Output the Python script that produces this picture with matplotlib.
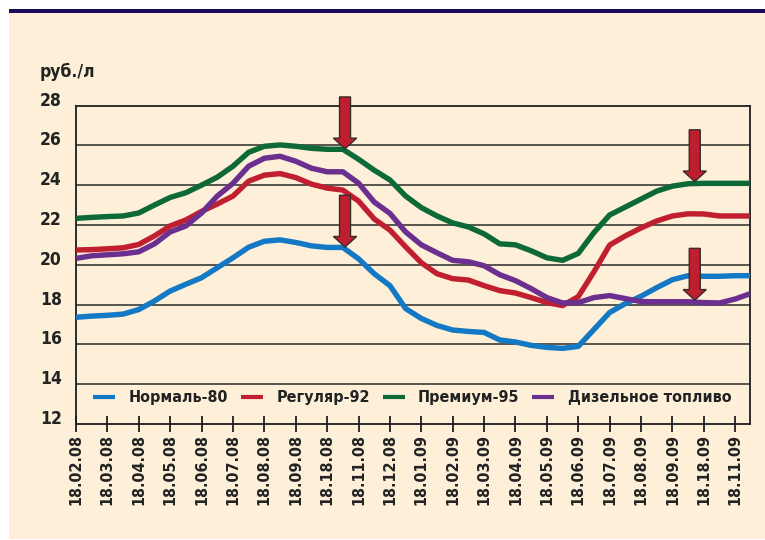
import numpy as np
import matplotlib
matplotlib.use('Agg')
import matplotlib.pyplot as plt
from matplotlib import font_manager
from matplotlib.patches import Rectangle, FancyArrow

names = {f.name for f in font_manager.fontManager.ttflist}
narrow = 'Liberation Sans Narrow' if 'Liberation Sans Narrow' in names else 'DejaVu Sans'
plt.rcParams['font.family'] = [narrow, 'DejaVu Sans']
plt.rcParams['font.stretch'] = 'condensed'
plt.rcParams['font.weight'] = 'bold'

# tick labels (monthly, as printed in the source)
dates = ['18.02.08', '18.03.08', '18.04.08', '18.05.08', '18.06.08', '18.07.08',
         '18.08.08', '18.09.08', '18.18.08', '18.11.08', '18.12.08', '18.01.09',
         '18.02.09', '18.03.09', '18.04.09', '18.05.09', '18.06.09', '18.07.09',
         '18.08.09', '18.09.09', '18.18.09', '18.11.09']
yticks = [12, 14, 16, 18, 20, 22, 24, 26, 28]

# prices, rub/l, read every half month
normal80 = [17.36, 17.42, 17.46, 17.52, 17.75, 18.18, 18.68, 19.02, 19.35, 19.85,
            20.35, 20.88, 21.18, 21.25, 21.12, 20.95, 20.87, 20.87, 20.30, 19.55,
            18.95, 17.80, 17.30, 16.95, 16.72, 16.65, 16.60, 16.22, 16.12, 15.95,
            15.85, 15.80, 15.90, 16.75, 17.60, 18.05, 18.42, 18.85, 19.25, 19.45,
            19.42, 19.42, 19.45, 19.45]
regular92 = [20.74, 20.76, 20.80, 20.85, 21.02, 21.45, 21.95, 22.25, 22.68, 23.05,
             23.45, 24.20, 24.50, 24.58, 24.38, 24.05, 23.85, 23.75, 23.20, 22.30,
             21.74, 20.90, 20.10, 19.55, 19.30, 19.23, 18.95, 18.70, 18.58, 18.35,
             18.10, 17.95, 18.40, 19.65, 20.99, 21.45, 21.85, 22.20, 22.45, 22.56,
             22.55, 22.45, 22.45, 22.45]
premium95 = [22.33, 22.38, 22.42, 22.45, 22.60, 23.00, 23.38, 23.62, 24.00, 24.40,
             24.95, 25.65, 25.95, 26.02, 25.95, 25.85, 25.80, 25.80, 25.30, 24.75,
             24.26, 23.45, 22.87, 22.45, 22.10, 21.90, 21.55, 21.05, 21.00, 20.70,
             20.35, 20.22, 20.57, 21.62, 22.50, 22.90, 23.30, 23.70, 23.95, 24.07,
             24.09, 24.09, 24.09, 24.09]
diesel = [20.32, 20.45, 20.50, 20.55, 20.65, 21.05, 21.65, 21.95, 22.60, 23.45,
          24.09, 24.95, 25.35, 25.45, 25.20, 24.85, 24.67, 24.67, 24.10, 23.15,
          22.58, 21.65, 21.00, 20.60, 20.22, 20.15, 19.95, 19.50, 19.20, 18.80,
          18.35, 18.08, 18.10, 18.35, 18.45, 18.30, 18.15, 18.14, 18.14, 18.14,
          18.10, 18.08, 18.28, 18.56]

series = {
    'Нормаль-80': (normal80, '#1479c4'),
    'Регуляр-92': (regular92, '#c01f2f'),
    'Премиум-95': (premium95, '#0d6a36'),
    'Дизельное топливо': (diesel, '#6b2f90'),
}
# arrows: (month index, series it points at)
arrows = [(8.57, 'Премиум-95'), (8.57, 'Нормаль-80'),
          (19.71, 'Премиум-95'), (19.71, 'Дизельное топливо')]

x = np.arange(len(normal80)) * 0.5

fig = plt.figure(figsize=(7.65, 5.4), dpi=100)
fig.patch.set_facecolor('white')
fig.add_artist(Rectangle((9 / 765, 1 / 540), 756 / 765, 526 / 540,
                         transform=fig.transFigure, facecolor='#fdefd8',
                         edgecolor='none', zorder=-2))
fig.add_artist(Rectangle((9 / 765, 527 / 540), 756 / 765, 4.5 / 540,
                         transform=fig.transFigure, facecolor='#180c5a',
                         edgecolor='none', zorder=-1))

ax = fig.add_axes([76 / 765, 116 / 540, 674 / 765, 318.5 / 540])
ax.set_zorder(2)
ax.set_facecolor('none')

for name, (vals, col) in series.items():
    ax.plot(x, vals, color=col, lw=3.9, solid_capstyle='butt',
            solid_joinstyle='round', label=name, zorder=3)

for xa, name in arrows:
    tip = np.interp(xa, x, series[name][0]) + 0.1
    ax.add_patch(FancyArrow(xa, tip + 2.6, 0, -2.6, width=0.35, head_width=0.74,
                            head_length=0.53, length_includes_head=True,
                            facecolor='#be1e2d', edgecolor='#3a2a2a', lw=1,
                            zorder=5, clip_on=False))

ax.set_xlim(0, 21.47)
ax.set_ylim(12, 28)
for v in yticks[1:-1]:
    ax.axhline(v, color='#2a2a2a', lw=1.1, zorder=1)
for s in ax.spines.values():
    s.set_color('#1e1e1e')
    s.set_linewidth(1.3)

ax.set_yticks([])
for v in yticks:
    ax.text(-36 / 31.4, v, str(v), ha='left', va='baseline', fontsize=12.5,
            fontweight='bold', color='#222222', clip_on=False)

ax.set_xticks(np.arange(len(dates)))
ax.set_xticklabels(dates, rotation=90, fontsize=11.5, fontweight='bold',
                   color='#222222')
ax.tick_params(axis='x', direction='inout', length=11, width=1.3,
               color='#1e1e1e', pad=2)

fig.text(40 / 765, (540 - 77) / 540, 'руб./л', fontsize=12.5, fontweight='bold',
         color='#222222', ha='left', va='baseline')

leg = ax.legend(loc='center', bbox_to_anchor=(0.499, 0.082), ncol=4,
                frameon=False, fontsize=11.5, handlelength=1.37,
                handletextpad=0.85, columnspacing=0.8)
for h in leg.get_lines():
    h.set_linewidth(3)
for t in leg.get_texts():
    t.set_color('#222222')

fig.savefig('out.png', dpi=100, facecolor='white')
